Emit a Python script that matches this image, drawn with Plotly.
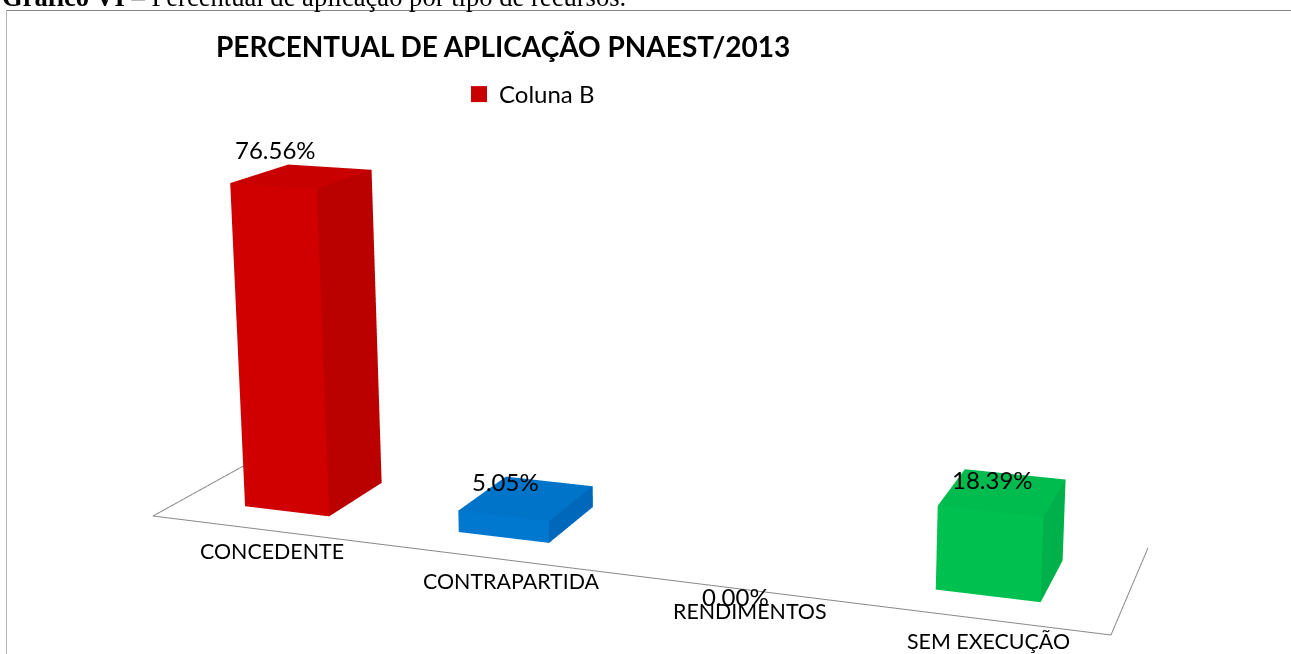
import plotly.graph_objects as go

W, H = 1291, 654

# ---- data ----
categories = ["CONCEDENTE", "CONTRAPARTIDA", "RENDIMENTOS", "SEM EXECUÇÃO"]
values = [76.56, 5.05, 0.00, 18.39]
value_labels = ["76.56%", "5.05%", "0.00%", "18.39%"]
series_name = "Coluna B"
title_text = "PERCENTUAL DE APLICAÇÃO PNAEST/2013"
caption_text = "<b>Gráfico VI</b> – Percentual de aplicação por tipo de recursos."

# ---- colours per bar: front, side, top ----
bar_front = ["#D00000", "#0078D0", "#7B3FA0", "#00C050"]
bar_side = ["#BB0000", "#0068BA", "#6B3590", "#00B04A"]
bar_top = ["#C80000", "#0074C9", "#743B98", "#00BB4E"]

# ---- 3D floor basis of the scene (camera sits at y=-1.2 looking along +y) ----
ORIGIN = (-0.7415, -0.0113, -0.2846)
ALONG = (1.3442, -0.1665, -0.1142)
DEPTH = (0.1221, 0.1166, 0.0800)
UP = (-0.0055, -0.078, 0.997)
BAR_WIDTH = 0.1005          # share of the floor width (slots are 0.25 wide)
BAR_D0, BAR_D1 = 0.245, 0.735
HEIGHT_PER_PERCENT = 0.00637


def point(t, d, pct=0.0):
    h = pct * HEIGHT_PER_PERCENT
    return tuple(ORIGIN[a] + t * ALONG[a] + d * DEPTH[a] + h * UP[a] for a in range(3))


def px(x, y):
    return x / W, 1 - y / H


fig = go.Figure()

# floor edges
floor = [point(0, 1), point(0, 0), point(1, 0), point(1, 1)]
fig.add_trace(go.Scatter3d(
    x=[p[0] for p in floor], y=[p[1] for p in floor], z=[p[2] for p in floor],
    mode="lines", line=dict(color="#8a8a8a", width=2),
    showlegend=False, hoverinfo="skip"))

# bars
for n, val in enumerate(values):
    if val <= 0:
        continue
    c = (n + 0.5) / len(values)
    t0, t1 = c - BAR_WIDTH / 2, c + BAR_WIDTH / 2
    corners = [point(t, d, p) for p in (0, val) for d in (BAR_D0, BAR_D1) for t in (t0, t1)]
    # 0..3 bottom, 4..7 top (order: front-left, front-right, back-left, back-right)
    faces = [
        (0, 1, 5, bar_front[n]), (0, 5, 4, bar_front[n]),
        (1, 3, 7, bar_side[n]), (1, 7, 5, bar_side[n]),
        (4, 5, 7, bar_top[n]), (4, 7, 6, bar_top[n]),
        (0, 2, 6, bar_side[n]), (0, 6, 4, bar_side[n]),
        (2, 3, 7, bar_front[n]), (2, 7, 6, bar_front[n]),
    ]
    fig.add_trace(go.Mesh3d(
        x=[p[0] for p in corners], y=[p[1] for p in corners], z=[p[2] for p in corners],
        i=[f[0] for f in faces], j=[f[1] for f in faces], k=[f[2] for f in faces],
        facecolor=[f[3] for f in faces], flatshading=True,
        lighting=dict(ambient=1, diffuse=0, specular=0, roughness=1, fresnel=0),
        showscale=False, showlegend=False, hoverinfo="skip"))

# legend entry
fig.add_trace(go.Scatter(x=[None], y=[None], mode="markers", name=series_name,
                         marker=dict(symbol="square", size=16, color="#C80000"),
                         showlegend=True, hoverinfo="skip"))

FONT = "Lato"
anns = []
x, y = px(503, 46)
anns.append(dict(x=x, y=y, xref="paper", yref="paper", text=f"<b>{title_text}</b>", showarrow=False,
                 font=dict(family=FONT, size=28, color="#000"), xanchor="center", yanchor="middle"))
x, y = px(0, -3)
anns.append(dict(x=x, y=y, xref="paper", yref="paper", text=caption_text, showarrow=False,
                 font=dict(family="Liberation Serif", size=26.6, color="#000"),
                 xanchor="left", yanchor="middle"))
cat_px = [(272, 551), (511, 581), (750, 611), (988, 641)]
val_px = [(275, 150), (505, 482), (735, 596), (992, 479)]
for label, pos in zip(categories, cat_px):
    x, y = px(*pos)
    anns.append(dict(x=x, y=y, xref="paper", yref="paper", text=label, showarrow=False,
                     font=dict(family=FONT, size=21.4, color="#000"), xanchor="center", yanchor="middle"))
for label, pos in zip(value_labels, val_px):
    x, y = px(*pos)
    anns.append(dict(x=x, y=y, xref="paper", yref="paper", text=label, showarrow=False,
                     font=dict(family=FONT, size=24, color="#000"), xanchor="center", yanchor="middle"))

L, T = 6.5, 10.5
x0, y0 = px(L, T)
hidden = dict(visible=False, showgrid=False, zeroline=False, showticklabels=False, showspikes=False,
              showbackground=False, range=[-2, 2], title="")
fig.update_layout(
    width=W, height=H, autosize=False,
    margin=dict(l=0, r=0, t=0, b=0),
    paper_bgcolor="#fff", plot_bgcolor="#fff",
    hovermode=False,
    scene=dict(
        domain=dict(x=[0, 1], y=[0, 1]),
        xaxis=hidden, yaxis=hidden, zaxis=hidden,
        aspectmode="manual", aspectratio=dict(x=4, y=4, z=4),
        camera=dict(eye=dict(x=0, y=-1.2, z=0), center=dict(x=0, y=0, z=0), up=dict(x=0, y=0, z=1),
                    projection=dict(type="perspective")),
        bgcolor="rgba(0,0,0,0)",
    ),
    xaxis=dict(visible=False), yaxis=dict(visible=False),
    legend=dict(x=px(459, 0)[0], y=px(0, 72)[1], xanchor="left", yanchor="top",
                bgcolor="rgba(0,0,0,0)", font=dict(family=FONT, size=24, color="#000"),
                itemsizing="trace", itemwidth=30),
    annotations=anns,
    shapes=[
        dict(type="line", xref="paper", yref="paper", x0=x0, y0=y0, x1=1, y1=y0, line=dict(color="#858585", width=1)),
        dict(type="line", xref="paper", yref="paper", x0=x0, y0=y0, x1=x0, y1=0, line=dict(color="#b5b5b5", width=1)),
    ],
)
fig.write_html("out.html", config=dict(displayModeBar=False),
               post_script="document.body.style.margin='0';document.documentElement.style.overflow='hidden';")
